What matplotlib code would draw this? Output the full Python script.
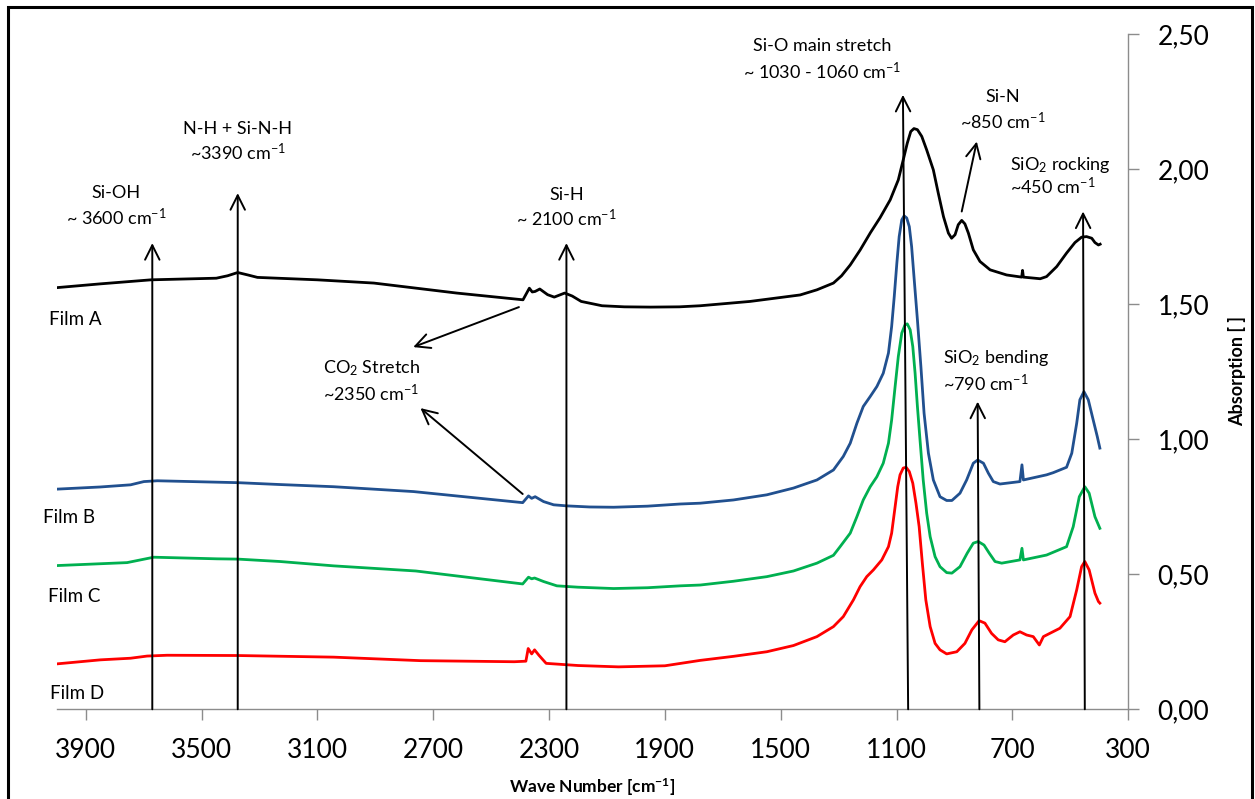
import matplotlib
matplotlib.use("Agg")
import matplotlib.pyplot as plt
from matplotlib.patches import Rectangle

plt.rcParams['font.family'] = ['Lato', 'DejaVu Sans']
plt.rcParams['mathtext.default'] = 'regular'

# ---- spectra (wave number, absorption) ----
film_a_x = [4000, 3850, 3674, 3449, 3410, 3375, 3340, 3307, 3100, 2905, 2619, 2390, 2368, 2358,
            2348, 2332, 2305, 2282, 2246, 2220, 2189, 2117, 2040, 1949, 1850, 1778, 1606, 1433,
            1375, 1318, 1290, 1260, 1226, 1190, 1157, 1122, 1094, 1077, 1063, 1051, 1040, 1028,
            1013, 996, 973, 956, 938, 921, 910, 898, 887, 875, 864, 852, 835, 812, 777, 720, 668,
            665, 662, 604, 582, 547, 513, 484, 461, 444, 426, 415, 403, 397]
film_a_y = [1.561, 1.575, 1.590, 1.596, 1.605, 1.617, 1.608, 1.599, 1.590, 1.578, 1.541, 1.516, 1.559, 1.545,
            1.547, 1.556, 1.535, 1.526, 1.541, 1.530, 1.510, 1.494, 1.490, 1.489, 1.490, 1.494, 1.510, 1.534,
            1.553, 1.578, 1.605, 1.645, 1.700, 1.765, 1.820, 1.886, 1.960, 2.034, 2.096, 2.139, 2.150, 2.146,
            2.121, 2.071, 1.997, 1.911, 1.824, 1.763, 1.744, 1.757, 1.794, 1.810, 1.797, 1.763, 1.701, 1.658,
            1.627, 1.608, 1.600, 1.625, 1.600, 1.594, 1.602, 1.639, 1.689, 1.728, 1.748, 1.750, 1.744, 1.728,
            1.719, 1.722]

film_b_x = [4000, 3850, 3745, 3699, 3653, 3375, 3228, 3044, 2768, 2391, 2371, 2360, 2348, 2319,
            2284, 2238, 2160, 2077, 1960, 1847, 1778, 1663, 1548, 1456, 1375, 1318, 1284, 1260,
            1237, 1215, 1191, 1168, 1146, 1128, 1117, 1108, 1099, 1091, 1082, 1074, 1065, 1056,
            1048, 1039, 1028, 1016, 1005, 990, 973, 950, 927, 909, 881, 858, 835, 820, 800, 783,
            766, 743, 674, 667, 662, 582, 559, 513, 495, 478, 467, 453, 438, 421, 407, 398]
film_b_y = [0.815, 0.823, 0.831, 0.843, 0.846, 0.839, 0.832, 0.824, 0.806, 0.765, 0.790, 0.781, 0.787, 0.769,
            0.757, 0.753, 0.749, 0.748, 0.752, 0.760, 0.763, 0.775, 0.794, 0.819, 0.849, 0.886, 0.936, 0.985,
            1.059, 1.121, 1.158, 1.195, 1.244, 1.319, 1.417, 1.528, 1.652, 1.750, 1.812, 1.827, 1.819, 1.787,
            1.713, 1.590, 1.442, 1.269, 1.096, 0.948, 0.849, 0.787, 0.773, 0.773, 0.800, 0.849, 0.911, 0.923,
            0.911, 0.874, 0.843, 0.834, 0.843, 0.905, 0.849, 0.868, 0.876, 0.896, 0.948, 1.059, 1.146, 1.176,
            1.146, 1.071, 1.010, 0.967]

film_c_x = [4000, 3757, 3665, 3446, 3375, 3228, 3044, 2760, 2391, 2371, 2360, 2350, 2319, 2273,
            2200, 2077, 1960, 1847, 1778, 1663, 1548, 1456, 1375, 1318, 1295, 1260, 1237, 1215,
            1191, 1168, 1146, 1128, 1117, 1105, 1094, 1082, 1071, 1063, 1053, 1044, 1036, 1028,
            1019, 1008, 996, 984, 967, 950, 927, 909, 881, 856, 835, 818, 798, 780, 760, 737,
            674, 667, 662, 582, 513, 490, 469, 450, 435, 415, 398]
film_c_y = [0.532, 0.543, 0.563, 0.557, 0.556, 0.547, 0.531, 0.512, 0.464, 0.489, 0.483, 0.486, 0.473, 0.457,
            0.452, 0.447, 0.450, 0.457, 0.460, 0.474, 0.491, 0.512, 0.541, 0.570, 0.602, 0.652, 0.713, 0.775,
            0.824, 0.861, 0.911, 0.985, 1.071, 1.195, 1.306, 1.393, 1.423, 1.427, 1.405, 1.343, 1.244, 1.121,
            0.997, 0.849, 0.726, 0.639, 0.565, 0.528, 0.506, 0.504, 0.528, 0.578, 0.615, 0.621, 0.608, 0.578,
            0.547, 0.541, 0.553, 0.596, 0.553, 0.571, 0.602, 0.676, 0.787, 0.824, 0.800, 0.713, 0.670]

film_d_x = [4000, 3849, 3745, 3688, 3619, 3375, 3044, 2744, 2420, 2380, 2372, 2360, 2350, 2335,
            2310, 2200, 2060, 1900, 1778, 1663, 1548, 1456, 1375, 1318, 1284, 1249, 1226, 1203,
            1180, 1151, 1128, 1117, 1105, 1096, 1088, 1077, 1067, 1056, 1044, 1033, 1022, 1011,
            999, 984, 967, 950, 927, 892, 864, 840, 815, 795, 772, 749, 726, 697, 674, 651, 628,
            607, 593, 536, 501, 478, 461, 450, 435, 415, 403, 398]
film_d_y = [0.168, 0.183, 0.189, 0.197, 0.200, 0.199, 0.193, 0.180, 0.176, 0.178, 0.225, 0.205, 0.220, 0.200,
            0.170, 0.162, 0.157, 0.161, 0.181, 0.196, 0.213, 0.236, 0.269, 0.306, 0.343, 0.405, 0.454, 0.491,
            0.516, 0.553, 0.602, 0.652, 0.750, 0.824, 0.868, 0.893, 0.896, 0.880, 0.837, 0.763, 0.676, 0.541,
            0.405, 0.306, 0.244, 0.220, 0.205, 0.213, 0.244, 0.294, 0.328, 0.319, 0.281, 0.257, 0.250, 0.275,
            0.287, 0.275, 0.269, 0.238, 0.269, 0.300, 0.343, 0.442, 0.528, 0.547, 0.516, 0.430, 0.399, 0.393]

films = ['Film A', 'Film B', 'Film C', 'Film D']
colors = ['#000000', '#21508f', '#00b050', '#ff0000']
film_label_x = [4027, 4046, 4031, 4022]
film_label_y = [1.444, 0.711, 0.417, 0.059]

x_ticks = [3900, 3500, 3100, 2700, 2300, 1900, 1500, 1100, 700, 300]
y_ticks = [0.0, 0.5, 1.0, 1.5, 2.0, 2.5]

# band marker arrows: (base x, base y, tip x, tip y)
band_arrows = [
    (3670, 0.0, 3670, 1.726),
    (3375, 0.0, 3375, 1.911),
    (2240, 0.0, 2240, 1.726),
    (1060, 0.0, 1078, 2.275),
    (814, 0.0, 820, 1.139),
    (450, 0.0, 456, 1.843),
    (875, 1.843, 823, 2.102),
    (2404, 1.489, 2769, 1.341),
    (2391, 0.797, 2744, 1.115),
]

# band labels: (text, x, y, horizontal alignment)
cm = r'cm$^{-1}$'
band_labels = [
    ('Si-OH', 3794, 1.912, 'center'), ('~ 3600 ' + cm, 3794, 1.819, 'center'),
    ('N-H + Si-N-H', 3375, 2.149, 'center'), ('~3390 ' + cm, 3375, 2.060, 'center'),
    ('Si-H', 2240, 1.905, 'center'), ('~ 2100 ' + cm, 2240, 1.817, 'center'),
    (r'CO$_2$ Stretch', 3079, 1.264, 'left'), ('~2350 ' + cm, 3079, 1.168, 'left'),
    ('Si-O main stretch', 1358, 2.454, 'center'), ('~ 1030 - 1060 ' + cm, 1358, 2.361, 'center'),
    ('Si-N', 732, 2.267, 'center'), ('~850 ' + cm, 732, 2.176, 'center'),
    (r'SiO$_2$ rocking', 708, 2.016, 'left'), ('~450 ' + cm, 708, 1.936, 'left'),
    (r'SiO$_2$ bending', 938, 1.300, 'left'), ('~790 ' + cm, 938, 1.207, 'left'),
]

fig = plt.figure(figsize=(12.55, 7.99), dpi=100)
ax = fig.add_axes([0.0452, 0.1123, 0.8538, 0.8451])

for xs, ys, c in zip([film_a_x, film_b_x, film_c_x, film_d_x],
                     [film_a_y, film_b_y, film_c_y, film_d_y], colors):
    ax.plot(xs, ys, color=c, lw=2.0, zorder=2, solid_joinstyle='round')

for name, lx, ly in zip(films, film_label_x, film_label_y):
    ax.text(lx, ly, name, fontsize=13.5, ha='left', va='center')

for x0, y0, x1, y1 in band_arrows:
    ax.annotate('', xy=(x1, y1), xytext=(x0, y0),
                arrowprops=dict(arrowstyle='->', lw=1.4, color='black',
                                mutation_scale=26, shrinkA=0, shrinkB=0),
                zorder=3, annotation_clip=False)

for txt, tx, ty, ha in band_labels:
    ax.text(tx, ty, txt, fontsize=13, ha=ha, va='center')

ax.set_xlim(4000, 300)
ax.set_ylim(0, 2.5)
ax.set_xticks(x_ticks)
ax.set_xticklabels([str(t) for t in x_ticks])
ax.set_yticks(y_ticks)
ax.set_yticklabels([('%.2f' % t).replace('.', ',') for t in y_ticks])
ax.yaxis.tick_right()

for s in ['left', 'top']:
    ax.spines[s].set_visible(False)
for s in ['bottom', 'right']:
    ax.spines[s].set_color('#8c8c8c')
    ax.spines[s].set_linewidth(1.0)

ax.tick_params(axis='both', direction='out', length=8, width=1.0,
               color='#8c8c8c', labelsize=19, pad=13)

fig.text(0.4722, 1 - 787 / 799, 'Wave Number [cm$^{-1}$]', fontsize=12.5, fontweight='bold',
         ha='center', va='center')
fig.text(1237 / 1255, 1 - 371 / 799, 'Absorption [ ]', fontsize=13, fontweight='bold',
         rotation=90, ha='center', va='center')

# outer frame of the picture
fig.add_artist(Rectangle((8 / 1255, -0.05), 1244 / 1255, 1.05 - 7 / 799,
                         transform=fig.transFigure, fill=False,
                         edgecolor='black', lw=2.2))

fig.savefig('out.png', dpi=100)
